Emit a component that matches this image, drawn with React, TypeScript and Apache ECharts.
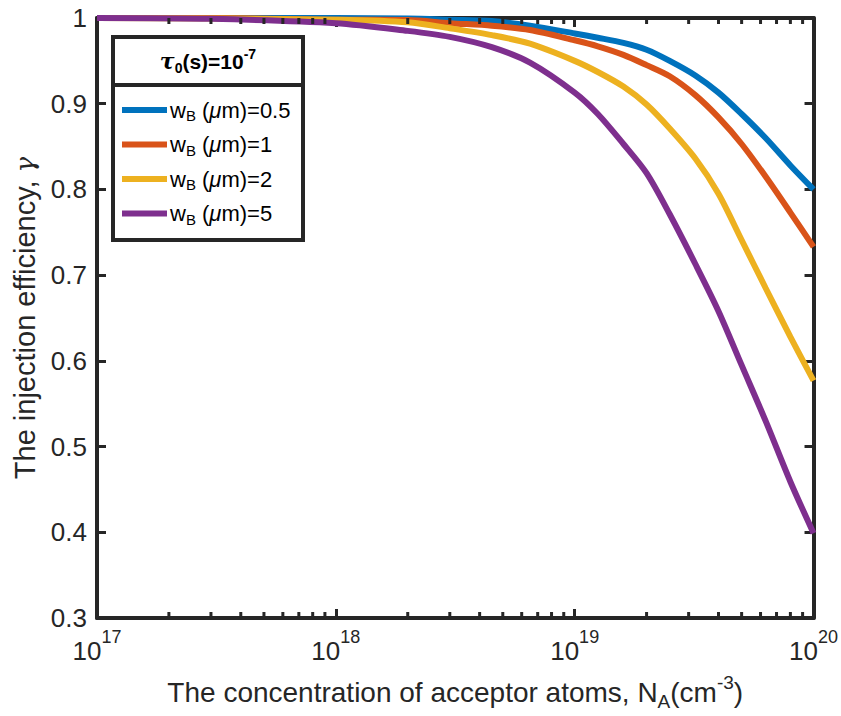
import React, { useEffect, useRef } from 'react';
import * as echarts from 'echarts';

// Acceptor concentration N_A (cm^-3)
const concentrations = [1e17, 3e17, 1e18, 2e18, 3e18, 4.5e18, 6.5e18, 1e19, 1.25e19, 1.6e19, 2e19, 2.5e19, 3.2e19, 4e19, 5e19, 6.3e19, 8e19, 1e20];
// Injection efficiency for each base width w_B (um)
const gammaW05 = [1.0, 1.0, 1.0, 0.9993, 0.998, 0.9965, 0.991, 0.982, 0.977, 0.971, 0.963, 0.95, 0.933, 0.913, 0.888, 0.86, 0.828, 0.8];
const gammaW1 = [1.0, 1.0, 0.998, 0.9977, 0.994, 0.991, 0.986, 0.974, 0.967, 0.957, 0.945, 0.932, 0.91, 0.884, 0.853, 0.815, 0.773, 0.733];
const gammaW2 = [1.0, 0.9995, 0.998, 0.995, 0.988, 0.98, 0.97, 0.95, 0.937, 0.92, 0.899, 0.871, 0.836, 0.795, 0.741, 0.685, 0.628, 0.577];
const gammaW5 = [1.0, 0.999, 0.994, 0.985, 0.978, 0.966, 0.948, 0.913, 0.888, 0.853, 0.819, 0.771, 0.713, 0.658, 0.595, 0.53, 0.459, 0.399];

const widthLabels = ['0.5', '1', '2', '5'];
const seriesValues = [gammaW05, gammaW1, gammaW2, gammaW5];
const colors = ['#0072BD', '#D95319', '#EDB120', '#7E2F8E'];

const decades = [1e17, 1e18, 1e19];
const mantissas = [2, 3, 4, 5, 6, 7, 8, 9];
const minorTickValues = decades.flatMap((d) => mantissas.map((m) => m * d));

const FONT = '"Liberation Sans", Arial, Helvetica, sans-serif';
const AXIS_COLOR = '#262626';

export default function App() {
  const ref = useRef<HTMLDivElement>(null);

  useEffect(() => {
    if (!ref.current) return;
    const chart = echarts.init(ref.current, null, { renderer: 'svg' });

    const lineSeries = widthLabels.map((w, i) => ({
      name: w,
      type: 'line',
      xAxisIndex: 0,
      yAxisIndex: 0,
      data: concentrations.map((c, j) => [c, seriesValues[i][j]]),
      showSymbol: false,
      smooth: 0.3,
      clip: false,
      lineStyle: { width: 6, color: colors[i] },
      itemStyle: { color: colors[i] },
      z: 3,
    }));

    const minorTicks = {
      type: 'custom',
      xAxisIndex: 0,
      yAxisIndex: 0,
      data: minorTickValues.map((v) => [v, 0.3]),
      silent: true,
      z: 5,
      renderItem: (params: any, api: any) => {
        const x = api.coord([api.value(0), 0.3])[0];
        const cs = params.coordSys;
        const top = cs.y;
        const bottom = cs.y + cs.height;
        const len = 6;
        return {
          type: 'group',
          children: [
            { type: 'line', shape: { x1: x, y1: bottom, x2: x, y2: bottom - len }, style: { stroke: AXIS_COLOR, lineWidth: 3 } },
            { type: 'line', shape: { x1: x, y1: top, x2: x, y2: top + len }, style: { stroke: AXIS_COLOR, lineWidth: 3 } },
          ],
        };
      },
    };

    const legendRich = {
      t: { fontSize: 22, fontFamily: FONT, color: '#000', lineHeight: 26, verticalAlign: 'middle' },
      s: { fontSize: 15, fontFamily: FONT, color: '#000', lineHeight: 14, verticalAlign: 'bottom' },
      m: { fontSize: 22, fontFamily: FONT, fontStyle: 'italic', color: '#000', lineHeight: 26, verticalAlign: 'middle' },
    };

    const option: any = {
      animation: false,
      backgroundColor: '#ffffff',
      grid: { left: 97, right: 25, top: 18, bottom: 96 },
      xAxis: [
        {
          type: 'log',
          logBase: 10,
          min: 1e17,
          max: 1e20,
          position: 'bottom',
          axisLine: { show: true, lineStyle: { color: AXIS_COLOR, width: 4 } },
          axisTick: { show: true, inside: true, length: 9, lineStyle: { color: AXIS_COLOR, width: 3 } },
          splitLine: { show: false },
          axisLabel: {
            margin: 10,
            formatter: (v: number) => `{b|10}{p|${Math.round(Math.log10(v))}}`,
            rich: {
              b: { fontSize: 26, fontFamily: FONT, color: AXIS_COLOR, lineHeight: 36, verticalAlign: 'bottom' },
              p: { fontSize: 18, fontFamily: FONT, color: AXIS_COLOR, lineHeight: 18, verticalAlign: 'top' },
            },
          },
          name: '{t|The concentration of acceptor atoms, N}{s|A}{t|(cm}{p|-3}{t|)}',
          nameLocation: 'middle',
          nameGap: 55,
          nameTextStyle: {
            rich: {
              t: { fontSize: 28, fontFamily: FONT, color: AXIS_COLOR, lineHeight: 38, verticalAlign: 'middle' },
              s: { fontSize: 19, fontFamily: FONT, color: AXIS_COLOR, lineHeight: 18, verticalAlign: 'bottom' },
              p: { fontSize: 19, fontFamily: FONT, color: AXIS_COLOR, lineHeight: 18, verticalAlign: 'top' },
            },
          },
        },
        {
          type: 'log',
          logBase: 10,
          min: 1e17,
          max: 1e20,
          position: 'top',
          axisLine: { show: true, lineStyle: { color: AXIS_COLOR, width: 4 } },
          axisTick: { show: true, inside: true, length: 9, lineStyle: { color: AXIS_COLOR, width: 3 } },
          axisLabel: { show: false },
          splitLine: { show: false },
        },
      ],
      yAxis: [
        {
          type: 'value',
          min: 0.3,
          max: 1,
          interval: 0.1,
          position: 'left',
          axisLine: { show: true, lineStyle: { color: AXIS_COLOR, width: 4 } },
          axisTick: { show: true, inside: true, length: 9, lineStyle: { color: AXIS_COLOR, width: 3 } },
          splitLine: { show: false },
          axisLabel: {
            margin: 10,
            fontSize: 26,
            fontFamily: FONT,
            color: AXIS_COLOR,
            formatter: (v: number) => String(Math.round(v * 10) / 10),
          },
          name: '{t|The injection efficiency, }{g|γ}',
          nameLocation: 'middle',
          nameGap: 56,
          nameTextStyle: {
            rich: {
              t: { fontSize: 29, fontFamily: FONT, color: AXIS_COLOR },
              g: { fontSize: 26, fontFamily: '"DejaVu Serif", serif', fontStyle: 'italic', color: AXIS_COLOR },
            },
          },
        },
        {
          type: 'value',
          min: 0.3,
          max: 1,
          interval: 0.1,
          position: 'right',
          axisLine: { show: true, lineStyle: { color: AXIS_COLOR, width: 4 } },
          axisTick: { show: true, inside: true, length: 9, lineStyle: { color: AXIS_COLOR, width: 3 } },
          axisLabel: { show: false },
          splitLine: { show: false },
        },
      ],
      legend: {
        data: widthLabels,
        orient: 'vertical',
        left: 122,
        top: 99,
        itemWidth: 45,
        itemHeight: 6,
        itemGap: 10.5,
        icon: 'rect',
        padding: 0,
        z: 10,
        selectedMode: false,
        formatter: (name: string) => `{t|w}{s|B}{t| (}{m|μ}{t|m)=${name}}`,
        textStyle: { rich: legendRich, padding: [0, 0, 0, -2] },
      },
      graphic: [
        {
          type: 'rect',
          z: 8,
          shape: { x: 113, y: 37, width: 190, height: 203 },
          style: { fill: '#ffffff', stroke: AXIS_COLOR, lineWidth: 4 },
        },
        {
          type: 'line',
          z: 9,
          shape: { x1: 113, y1: 85, x2: 303, y2: 85 },
          style: { stroke: AXIS_COLOR, lineWidth: 4 },
        },
        {
          type: 'text',
          z: 9,
          x: 208,
          y: 61,
          style: {
            text: '{g|τ}{s|0}{t|(s)=10}{p|-7}',
            align: 'center',
            verticalAlign: 'middle',
            rich: {
              g: { fontSize: 22, fontFamily: '"DejaVu Serif", serif', fontStyle: 'italic', fontWeight: 'bold', fill: '#000', lineHeight: 28, verticalAlign: 'middle' },
              t: { fontSize: 21, fontFamily: FONT, fontWeight: 'bold', fill: '#000', lineHeight: 28, verticalAlign: 'middle' },
              s: { fontSize: 14, fontFamily: FONT, fontWeight: 'bold', fill: '#000', lineHeight: 14, verticalAlign: 'bottom' },
              p: { fontSize: 14, fontFamily: FONT, fontWeight: 'bold', fill: '#000', lineHeight: 14, verticalAlign: 'top' },
            },
          },
        },
      ],
      series: [...lineSeries, minorTicks],
    };

    chart.setOption(option);
    return () => {
      chart.dispose();
    };
  }, []);

  return (
    <div
      ref={ref}
      style={{ position: 'fixed', left: 0, top: 0, width: 841, height: 716, background: '#fff' }}
    />
  );
}
